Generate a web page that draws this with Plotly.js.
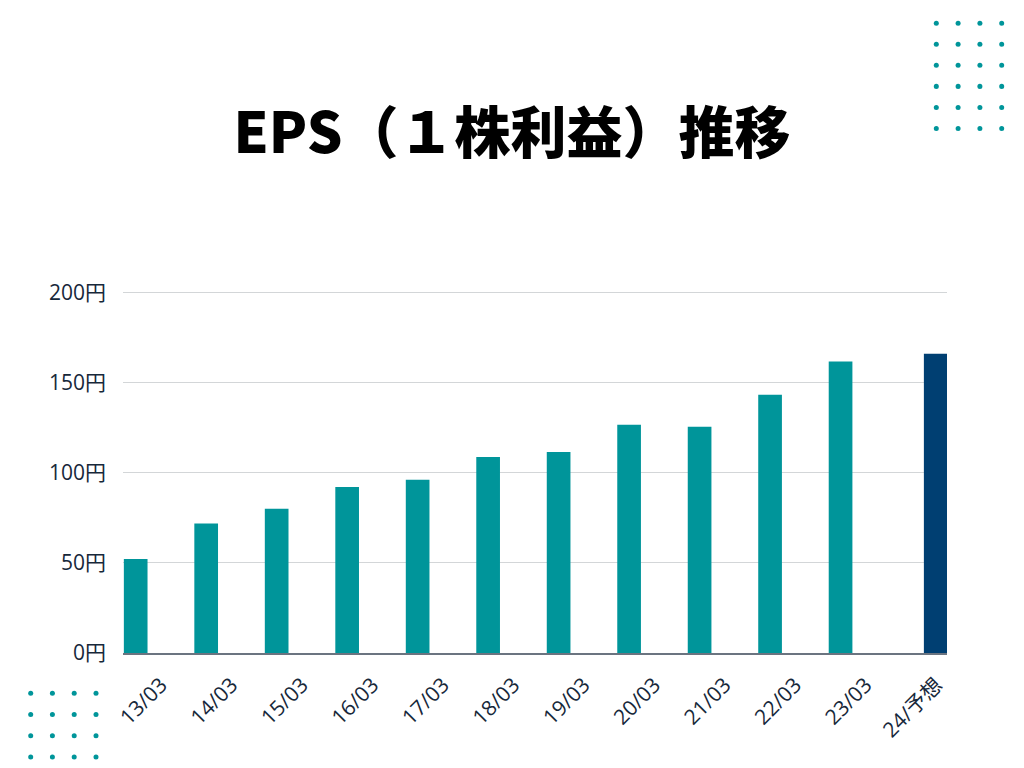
<!DOCTYPE html>
<html>
<head>
<meta charset="utf-8">
<script src="https://cdn.plot.ly/plotly-3.0.1.min.js"></script>
<style>html,body{margin:0;padding:0;background:#fff;}#chart{width:1024px;height:768px;}</style>
</head>
<body>
<div id="chart"></div>
<script>
const categories = ['13/03','14/03','15/03','16/03','17/03','18/03','19/03','20/03','21/03','22/03','23/03','24/予想'];
const actualEPS = [52.2, 71.8, 80.0, 92.1, 96.1, 108.7, 111.5, 126.7, 125.6, 143.3, 161.7, null];
const forecastEPS = [null, null, null, null, null, null, null, null, null, null, null, 166.1];
const yTicks = [0, 50, 100, 150, 200];
const yTickText = yTicks.map(v => v + '円');

const TEAL = '#00959a';
const NAVY = '#003f72';

const YMAX = 202;
const L = 123, R = 947, B = 653, T = B - YMAX * 1.8;
function px2paperX(px){ return (px - L) / (R - L); }
function px2paperY(py){ return (B - py) / (B - T); }
const shapes = [];
function dotGrid(xs, ys){
  const r = 2.5;
  xs.forEach(x => ys.forEach(y => {
    shapes.push({type:'circle', xref:'paper', yref:'paper',
      x0:px2paperX(x-r), x1:px2paperX(x+r), y0:px2paperY(y+r), y1:px2paperY(y-r),
      fillcolor:TEAL, line:{width:0}});
  }));
}
dotGrid([936.3, 958.1, 979.9, 1001.7], [24, 45, 66, 87, 108, 129]);
dotGrid([30.7, 52.4, 74.2, 96], [693.3, 714.5, 735.7, 756.9]);

const data = [
  {type:'bar', x:categories, y:actualEPS, marker:{color:TEAL}, name:'実績', hoverinfo:'x+y'},
  {type:'bar', x:categories, y:forecastEPS, marker:{color:NAVY}, name:'予想', hoverinfo:'x+y'}
];

const tickFont = {family:'"Open Sans", "Noto Sans CJK JP", sans-serif', size:21, color:'#17283a'};

const layout = {
  width:1024, height:768,
  paper_bgcolor:'#ffffff', plot_bgcolor:'#ffffff',
  margin:{l:L, r:1024-R, t:T, b:768-B, pad:0},
  showlegend:false,
  barmode:'group', bargap:0.30, bargroupgap:0.04,
  title:{text:'EPS（１株利益）推移', x:0.5, xanchor:'center', y:1-133/768, yanchor:'middle',
    font:{family:'"Noto Sans CJK JP", "Noto Sans", sans-serif', size:56, color:'#000000', weight:900}},
  xaxis:{type:'category', range:[-0.355, 11.335], tickangle:-45,
    showgrid:false, zeroline:false, showline:true, linecolor:'#6b7480', linewidth:1.5,
    ticks:'', ticklabelstandoff:10, ticklabelshift:13, tickfont:tickFont},
  yaxis:{range:[0, YMAX], tickvals:yTicks, ticktext:yTickText, showgrid:true, gridcolor:'#d3d6d8', gridwidth:1,
    zeroline:false, showline:false, ticks:'', ticklabelstandoff:16, tickfont:tickFont},
  shapes:shapes
};

Plotly.newPlot('chart', data, layout, {displayModeBar:false, staticPlot:true});
</script>
</body>
</html>
